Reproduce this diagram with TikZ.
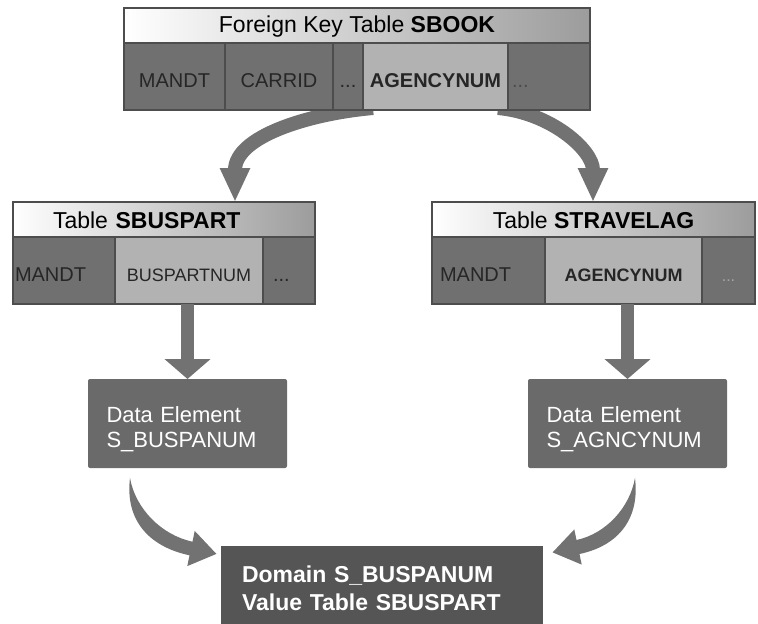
\documentclass[tikz,border=0pt]{standalone}
\usepackage{fontspec}
\setmainfont{Liberation Sans}
\usetikzlibrary{positioning,calc,arrows.meta}

\definecolor{framegray}{HTML}{4D4D4D}
\definecolor{hdrgray}{HTML}{9C9C9C}
\definecolor{cellgray}{HTML}{707070}
\definecolor{keygray}{HTML}{B2B2B2}
\definecolor{boxgray}{HTML}{6A6A6A}
\definecolor{domgray}{HTML}{555555}
\definecolor{arrowgray}{HTML}{727272}

\pgfdeclarelayer{back}
\pgfsetlayers{back,main}

\begin{document}
\begin{tikzpicture}[x=1pt, y=1pt,
	hstyle/.style={draw=framegray, line width=1.5pt, left color=white, right color=hdrgray,
	minimum height=35pt, inner sep=0pt, outer sep=0pt, text height=19pt,
	font=\fontsize{23}{27}\selectfont},
	cstyle/.style={draw=framegray, line width=1.5pt, fill=cellgray, text=black!85,
	minimum height=67pt, inner sep=0pt, outer sep=0pt, text height=21pt, text depth=0pt,
	font=\fontsize{20}{24}\selectfont},
	kstyle/.style={cstyle, fill=keygray},
	lstyle/.style={cstyle, align=left, inner xsep=#1},
	estyle/.style={fill=boxgray, rounded corners=2pt, text=white, align=left,
	text width=162pt, inner xsep=18.5pt, minimum height=89pt, outer sep=0pt,
	font=\fontsize{22}{25}\selectfont, execute at begin node={\rule{0pt}{28pt}}},
	dstyle/.style={fill=domgray, text=white, align=left, text width=280pt,
	inner xsep=21pt, minimum height=78pt, outer sep=0pt,
	font=\fontsize{23}{28}\selectfont\bfseries, execute at begin node={\rule{0pt}{23pt}}},
	astyle/.style={draw=arrowgray, line width=14pt, -{Triangle[width=28pt,length=34pt]}},
	vstyle/.style={draw=arrowgray, line width=13pt, -{Triangle[width=45pt,length=20pt]}}
	]
	\useasboundingbox (0,0) rectangle (758,-624);

	% SBOOK
	\node[hstyle, minimum width=466pt, anchor=north west] (hdrT) at (124,-8) {Foreign Key Table \textbf{SBOOK}};
	\node[cstyle, minimum width=101pt] (mT) [below right=0pt and 0pt of hdrT.south west] {MANDT};
	\node[cstyle, minimum width=108pt] (cT) [right=0pt of mT] {CARRID};
	\node[cstyle, minimum width=30pt] (d1T) [right=0pt of cT] {...};
	\node[kstyle, minimum width=145pt, font=\fontsize{20}{24}\selectfont\bfseries] (aT) [right=0pt of d1T] {AGENCYNUM};
	\node[lstyle=4pt, text width=74pt, minimum width=82pt, text=black!70] (d2T) [right=0pt of aT] {...};

	% SBUSPART
	\node[hstyle, minimum width=302pt, align=left, text width=222pt, inner xsep=40pt, anchor=north west] (hdrL) at (13,-202) {Table \textbf{SBUSPART}};
	\node[lstyle=2pt, text width=98pt, minimum width=102pt] (mL) [below right=0pt and 0pt of hdrL.south west] {MANDT};
	\node[kstyle, minimum width=148pt, font=\fontsize{18}{22}\selectfont] (bL) [right=0pt of mL] {BUSPARTNUM};
	\node[lstyle=10pt, text width=32pt, minimum width=52pt] (dL) [right=0pt of bL] {...};

	% STRAVELAG
	\node[hstyle, minimum width=323pt, anchor=north west] (hdrR) at (432,-202) {Table \textbf{STRAVELAG}};
	\node[lstyle=8pt, text width=97pt, minimum width=113pt] (mR) [below right=0pt and 0pt of hdrR.south west] {MANDT};
	\node[kstyle, minimum width=157pt, font=\fontsize{18}{22}\selectfont\bfseries] (aR) [right=0pt of mR] {AGENCYNUM};
	\node[cstyle, minimum width=53pt, text=black!35, font=\fontsize{16}{20}\selectfont] (dR) [right=0pt of aR] {...};

	% data elements and domain
	\node[estyle] (deL) [below=75pt of bL, xshift=-1.5pt] {Data Element\\S\_BUSPANUM};
	\node[estyle] (deR) [below=75pt of aR, xshift=4pt] {Data Element\\S\_AGNCYNUM};
	\node[dstyle, anchor=north west] (dom) at (221,-546) {Domain S\_BUSPANUM\\Value Table SBUSPART};

	\draw[vstyle] (bL.south -| deL.north) -- (deL.north);
	\draw[vstyle] (aR.south -| deR.north) -- (deR.north);

	\begin{pgfonlayer}{back}
	\draw[astyle] ($(aT.south west)+(10,2)$) to[out=185, in=90] ($(hdrL.north west)+(222,0)$);
	\draw[astyle] ($(aT.south east)+(-10,2)$) to[out=-5, in=90] ($(hdrR.north west)+(161,0)$);
	\end{pgfonlayer}

	\coordinate (baseL) at ($(deL.south west)+(42,-10)$);
	\coordinate (baseR) at ($(deR.south east)+(-92,-10)$);
	\fill[arrowgray, shift={(baseL)}] (0,0) to[out=-97, in=168, looseness=1.1] (59.5,-77.3)
		-- (57.3,-88.1) -- (86.4,-75.9) -- (64.7,-52.9) -- (62.5,-63.7)
		to[out=168, in=-80, looseness=0.9] (0,0) -- cycle;
	\fill[arrowgray, shift={(baseR)}] (0,0) to[out=-83, in=12, looseness=1.1] (-55.5,-76)
		-- (-53.3,-86.6) -- (-82.4,-74.4) -- (-60.7,-51.4) -- (-58.5,-62)
		to[out=12, in=-100, looseness=0.9] (0,0) -- cycle;
\end{tikzpicture}
\end{document}
